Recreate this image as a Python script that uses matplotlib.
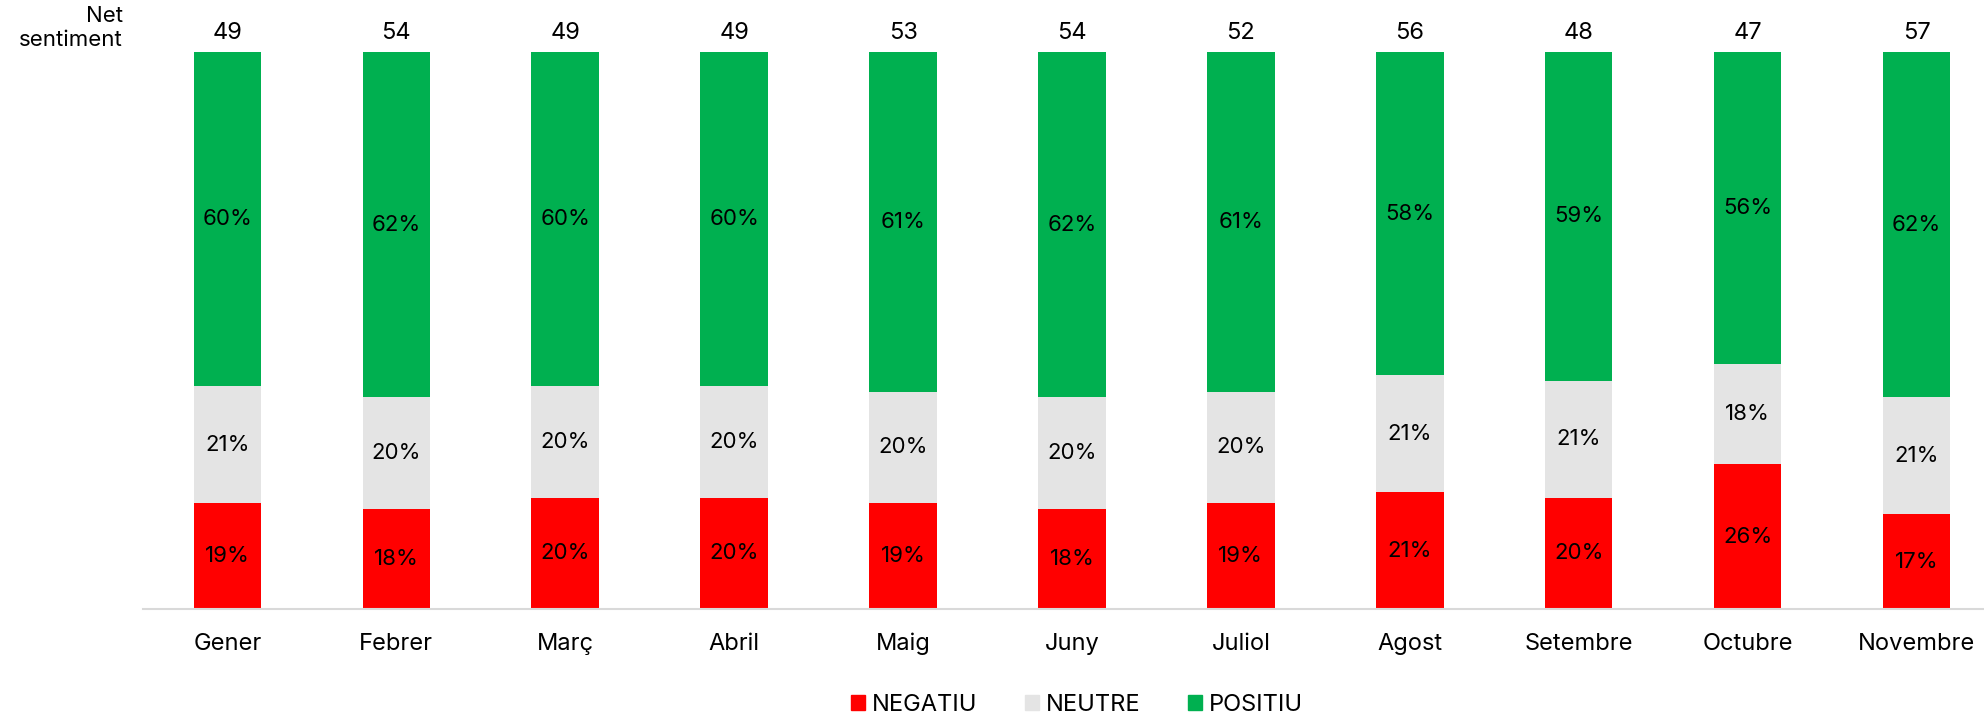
import numpy as np
import matplotlib.pyplot as plt
from matplotlib.patches import Patch

plt.rcParams['font.family'] = ['Inter', 'DejaVu Sans']

months = ['Gener', 'Febrer', 'Març', 'Abril', 'Maig', 'Juny', 'Juliol',
          'Agost', 'Setembre', 'Octubre', 'Novembre']
negatiu = [19, 18, 20, 20, 19, 18, 19, 21, 20, 26, 17]
neutre = [21, 20, 20, 20, 20, 20, 20, 21, 21, 18, 21]
positiu = [60, 62, 60, 60, 61, 62, 61, 58, 59, 56, 62]
net_sentiment = [49, 54, 49, 49, 53, 54, 52, 56, 48, 47, 57]

c_neg = '#FF0000'
c_neu = '#E4E4E4'
c_pos = '#00B050'

fig = plt.figure(figsize=(19.84, 7.17), dpi=100)
ax = fig.add_axes([143/1984, 1 - 609/717, 1 - 143/1984, (609 - 52)/717])

x = np.arange(len(months))
neg = np.array(negatiu)
neu = np.array(neutre)
pos = np.array(positiu)
w = 0.40

ax.bar(x, neg, w, color=c_neg)
ax.bar(x, neu, w, bottom=neg, color=c_neu)
ax.bar(x, pos, w, bottom=neg + neu, color=c_pos)

fs = 16
for i in range(len(x)):
    ax.text(x[i], neg[i] / 2, f'{neg[i]}%', ha='center', va='center', fontsize=fs)
    ax.text(x[i], neg[i] + neu[i] / 2, f'{neu[i]}%', ha='center', va='center', fontsize=fs)
    ax.text(x[i], neg[i] + neu[i] + pos[i] / 2, f'{pos[i]}%', ha='center', va='center', fontsize=fs)
    ax.text(x[i], 103.5, str(net_sentiment[i]), ha='center', va='center', fontsize=17)

ax.set_xlim(-0.5, 10.4)
ax.set_ylim(0, 100)
ax.set_xticks(x)
ax.set_xticklabels(months, fontsize=17)
ax.tick_params(axis='x', length=0, pad=17)
ax.set_yticks([])
for s in ['top', 'right', 'left']:
    ax.spines[s].set_visible(False)
ax.spines['bottom'].set_color('#D9D9D9')
ax.spines['bottom'].set_linewidth(1.5)

fig.text(123/1984, 1 - 28/717, 'Net\nsentiment', ha='right', va='center',
         fontsize=16, linespacing=1.2)

handles = [Patch(color=c_neg, label='NEGATIU'),
           Patch(color=c_neu, label='NEUTRE'),
           Patch(color=c_pos, label='POSITIU')]
fig.legend(handles=handles, loc='center', bbox_to_anchor=(1077/1984, 1 - 705/717),
           ncol=3, frameon=False, fontsize=17, handlelength=0.6, handleheight=0.6,
           handletextpad=0.3, columnspacing=2.0)

fig.savefig('out.png', dpi=100)
